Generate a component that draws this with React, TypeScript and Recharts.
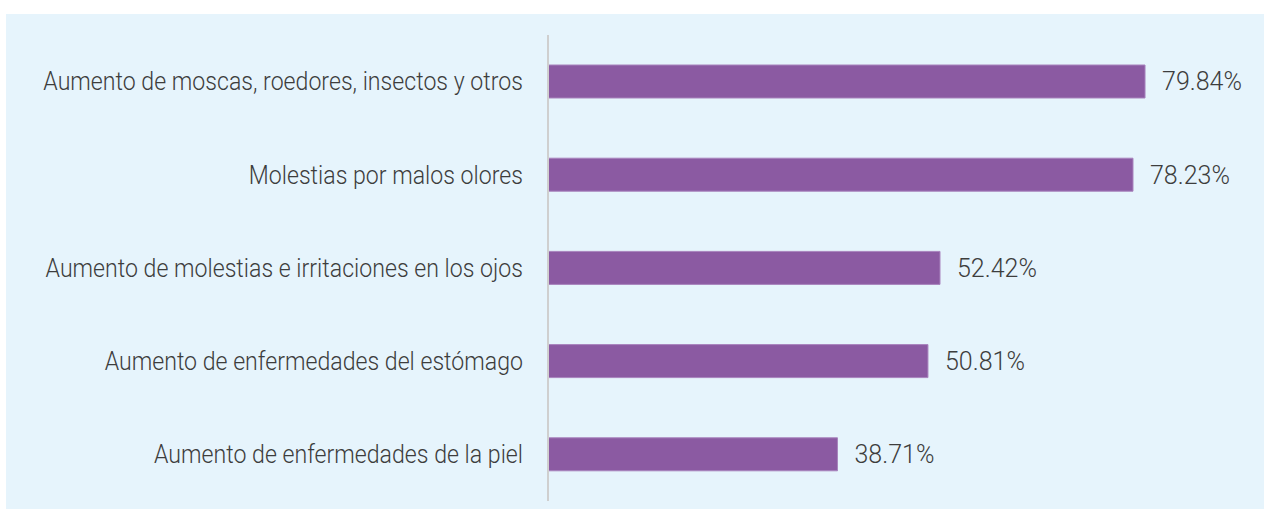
import { BarChart, Bar, XAxis, YAxis, LabelList } from 'recharts';

const categories = [
  'Aumento de moscas, roedores, insectos y otros',
  'Molestias por malos olores',
  'Aumento de molestias e irritaciones en los ojos',
  'Aumento de enfermedades del estómago',
  'Aumento de enfermedades de la piel',
];

const values = [79.84, 78.23, 52.42, 50.81, 38.71];

const data = categories.map((name, i) => ({ name, value: values[i] }));

const textColor = '#3d3d3d';

// condensed look: no narrow font installed, so squeeze Roboto Light a bit
function CategoryTick(props: any) {
  const { x, y, payload } = props;
  return (
    <text
      x={x}
      y={y}
      dy="0.355em"
      textAnchor="end"
      fill={textColor}
      fontSize={25}
      fontWeight={300}
      fontFamily="Roboto, sans-serif"
      transform={`translate(${x} 0) scale(0.925 1) translate(${-x} 0)`}
    >
      {payload.value}
    </text>
  );
}

export default function App() {
  return (
    <div style={{ position: 'absolute', left: 0, top: 0, width: 1264, height: 509 }}>
      <div
        style={{
          position: 'absolute',
          left: 6,
          top: 14,
          right: 0,
          bottom: 0,
          background: '#e6f4fc',
        }}
      />
      <div style={{ position: 'absolute', left: 0, top: 0 }}>
        <BarChart
          width={1264}
          height={509}
          data={data}
          layout="vertical"
          margin={{ top: 35, right: 43, bottom: 8, left: 0 }}
        >
          <XAxis type="number" domain={[0, 90]} hide />
          <YAxis
            type="category"
            dataKey="name"
            width={548}
            tickLine={false}
            tickSize={0}
            tickMargin={25}
            axisLine={{ stroke: '#cfcfcf', strokeWidth: 2 }}
            tick={<CategoryTick />}
          />
          <Bar
            dataKey="value"
            fill="#8b5aa2"
            stroke="#a883bd"
            strokeWidth={1}
            barSize={33}
            isAnimationActive={false}
          >
            <LabelList
              dataKey="value"
              position="right"
              offset={17}
              formatter={(v: number) => `${v.toFixed(2)}%`}
              style={{
                fill: textColor,
                fontSize: 25,
                fontWeight: 300,
                fontFamily: 'Roboto, sans-serif',
              }}
            />
          </Bar>
        </BarChart>
      </div>
    </div>
  );
}
